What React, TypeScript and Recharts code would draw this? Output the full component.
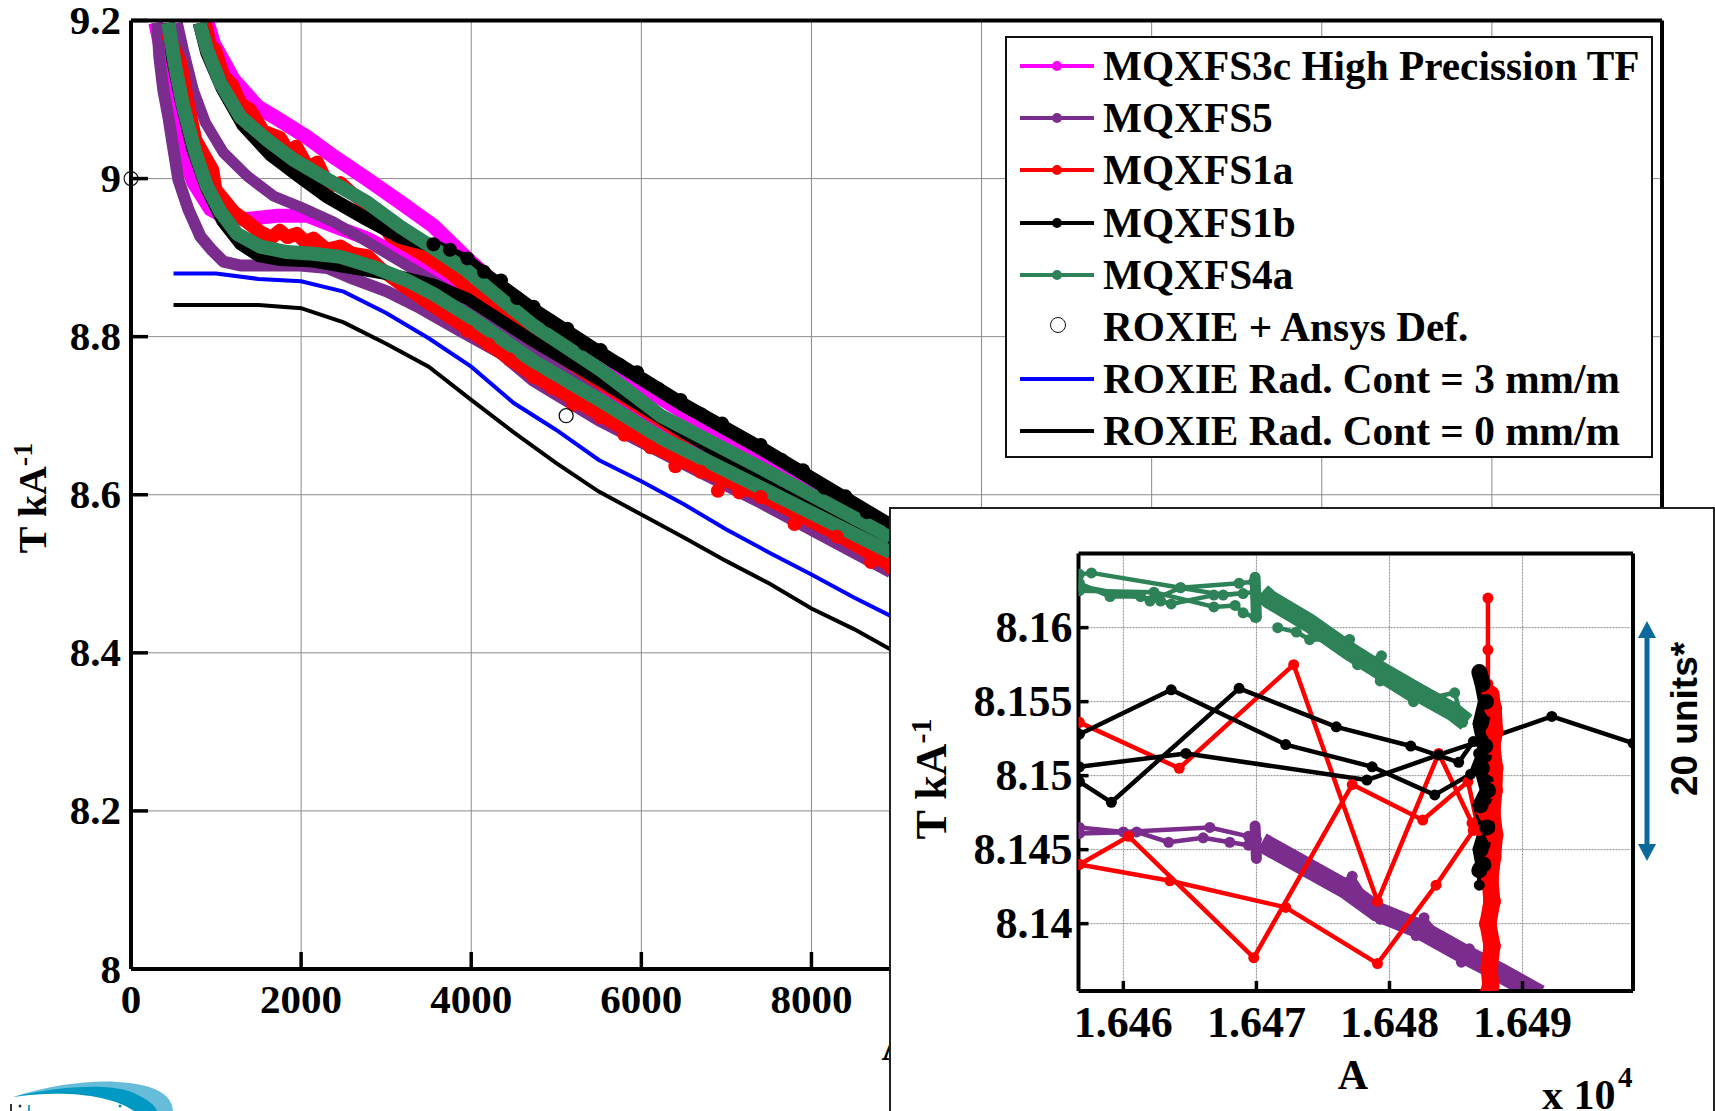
import { LineChart, Line, XAxis, YAxis, CartesianGrid, Legend } from 'recharts'

const SERIF = '"Liberation Serif", serif'

// main plot, [A, T/kA], one array per ramp direction
const magentaLower = [[286, 9.197], [380, 9.15], [462, 9.106], [556, 9.062], [639, 9.024], [733, 8.995], [933, 8.961], [1109, 8.951], [1368, 8.949], [1721, 8.953], [2074, 8.953], [2380, 8.94], [2780, 8.924], [3168, 8.902], [3556, 8.877], [3956, 8.848], [4733, 8.791], [5521, 8.737], [6462, 8.676], [7403, 8.622], [8933, 8.54]]
const magentaUpper = [[898, 9.197], [968, 9.171], [1204, 9.125], [1486, 9.091], [1792, 9.071], [2074, 9.052], [2380, 9.028], [2780, 8.999], [3168, 8.97], [3556, 8.94], [3956, 8.898], [4345, 8.861], [4733, 8.827], [5521, 8.77], [6462, 8.707], [7403, 8.653], [8933, 8.559]]
const purpleLower = [[309, 9.197], [333, 9.154], [380, 9.112], [439, 9.078], [486, 9.046], [556, 8.999], [674, 8.961], [815, 8.927], [956, 8.909], [1086, 8.895], [1286, 8.89], [1604, 8.89], [1992, 8.89], [2309, 8.887], [2615, 8.873], [3015, 8.857], [3404, 8.836], [3874, 8.807], [4345, 8.779], [4733, 8.744], [5521, 8.693], [6462, 8.641], [7403, 8.59], [8933, 8.502]]
const purpleUpper = [[545, 9.197], [615, 9.163], [733, 9.112], [874, 9.071], [1086, 9.033], [1368, 9.003], [1674, 8.978], [1992, 8.964], [2380, 8.945], [2780, 8.92], [3168, 8.895], [3556, 8.87], [3839, 8.852], [4733, 8.785], [5521, 8.722], [6462, 8.659], [7403, 8.603], [8933, 8.515]]
const redLower = [[427, 9.184], [580, 9.146], [674, 9.091], [756, 9.049], [956, 9.011], [992, 8.986], [1204, 8.958], [1368, 8.945], [1521, 8.932], [1650, 8.925], [1750, 8.934], [1839, 8.926], [1950, 8.93], [2050, 8.92], [2145, 8.924], [2300, 8.91], [2462, 8.914], [2600, 8.905], [2780, 8.902], [2933, 8.886], [3168, 8.867], [3556, 8.839], [3956, 8.81], [4733, 8.751], [5521, 8.701], [6109, 8.663], [6698, 8.632], [7403, 8.6], [8300, 8.55], [8933, 8.511]]
const redLowerEdge = [[3956, 8.807], [4200, 8.79], [4450, 8.771], [4733, 8.749], [4950, 8.735], [5200, 8.714], [5521, 8.698], [5800, 8.676], [6109, 8.66], [6400, 8.636], [6698, 8.629], [6900, 8.605], [7150, 8.603], [7403, 8.597], [7800, 8.563], [8300, 8.547], [8700, 8.515], [8933, 8.508]]
const redUpper = [[874, 9.197], [930, 9.17], [992, 9.163], [1090, 9.13], [1192, 9.119], [1290, 9.095], [1404, 9.087], [1560, 9.06], [1756, 9.052], [1850, 9.035], [1945, 9.041], [2080, 9.015], [2192, 9.021], [2330, 8.99], [2462, 8.995], [2874, 8.955], [3051, 8.927], [3404, 8.905], [3756, 8.88], [3956, 8.861], [4733, 8.798], [5521, 8.741], [6462, 8.678], [7403, 8.634], [8933, 8.546]]
const blackLower = [[439, 9.197], [486, 9.15], [580, 9.1], [721, 9.037], [886, 8.987], [1074, 8.946], [1286, 8.917], [1498, 8.902], [1757, 8.897], [2145, 8.895], [2462, 8.889], [2851, 8.882], [3168, 8.876], [3556, 8.866], [3956, 8.848], [4733, 8.794], [5521, 8.744], [6462, 8.681], [7403, 8.622], [8933, 8.537]]
const blackUpper = [[807, 9.197], [894, 9.16], [1074, 9.115], [1321, 9.068], [1639, 9.031], [1957, 9.005], [2298, 8.978], [2768, 8.949], [3168, 8.926], [3556, 8.915], [3956, 8.895], [4733, 8.834], [5521, 8.779], [6462, 8.716], [7403, 8.659], [8933, 8.561]]
const blackUpperEdge = [[3556, 8.917], [3750, 8.91], [3956, 8.899], [4150, 8.882], [4350, 8.871], [4540, 8.849], [4733, 8.838], [4930, 8.82], [5130, 8.81], [5330, 8.791], [5521, 8.783], [5750, 8.764], [5950, 8.755], [6200, 8.734], [6462, 8.72], [6700, 8.702], [6950, 8.69], [7200, 8.671], [7403, 8.663], [7650, 8.644], [7900, 8.631], [8150, 8.609], [8400, 8.598], [8650, 8.578], [8933, 8.565]]
const greenLower = [[439, 9.197], [521, 9.141], [615, 9.091], [756, 9.033], [894, 8.99], [1051, 8.958], [1247, 8.93], [1521, 8.914], [1835, 8.907], [2145, 8.905], [2462, 8.901], [2851, 8.888], [3247, 8.871], [3556, 8.854], [3956, 8.827], [4733, 8.769], [5521, 8.719], [6227, 8.672], [7403, 8.609], [8933, 8.527]]
const greenUpper = [[807, 9.197], [894, 9.163], [1051, 9.121], [1286, 9.078], [1600, 9.049], [1909, 9.024], [2306, 8.999], [2776, 8.97], [3168, 8.939], [3556, 8.912], [3956, 8.883], [4345, 8.848], [4733, 8.814], [5521, 8.758], [6227, 8.7], [7403, 8.634], [8933, 8.546]]
const roxieDef = [[0, 9.0], [5116, 8.7]]
const roxie3mm = [[500, 8.88], [1000, 8.88], [1500, 8.873], [2000, 8.87], [2500, 8.857], [3000, 8.83], [3500, 8.798], [4000, 8.762], [4500, 8.716], [5000, 8.682], [5500, 8.644], [6000, 8.617], [6500, 8.588], [7000, 8.556], [7500, 8.527], [8000, 8.499], [8500, 8.47], [9000, 8.443]]
const roxie0mm = [[500, 8.84], [1000, 8.84], [1500, 8.84], [2000, 8.836], [2500, 8.818], [3000, 8.791], [3500, 8.762], [4000, 8.72], [4500, 8.679], [5000, 8.64], [5500, 8.604], [6000, 8.575], [6500, 8.546], [7000, 8.516], [7500, 8.488], [8000, 8.456], [8500, 8.43], [9000, 8.4]]

const mainXTicks = [0, 2000, 4000, 6000, 8000, 10000, 12000, 14000, 16000, 18000]
const mainYTicks = [8, 8.2, 8.4, 8.6, 8.8, 9, 9.2]

// inset, zoom on the flat top of the ramp
const insetGreenA = [[16456.7, 8.1636], [16457.6, 8.1637], [16464.3, 8.1627], [16468.7, 8.163], [16469.8, 8.1631]]
const insetGreenB = [[16456.7, 8.163], [16459, 8.1621], [16461.3, 8.1621], [16462, 8.1618], [16464.3, 8.1627], [16467.5, 8.1622], [16469.9, 8.1624]]
const insetGreenC = [[16456.7, 8.1628], [16462.8, 8.1618], [16463.6, 8.1616], [16466.8, 8.1622], [16469, 8.1623]]
const insetGreenD = [[16456.7, 8.1625], [16462.3, 8.1624], [16466.8, 8.1614], [16468.4, 8.1615], [16469, 8.161], [16469.9, 8.1607]]
const insetGreenEdge = [[16471.6, 8.16], [16473, 8.1597], [16474, 8.1592], [16477, 8.1592], [16477.6, 8.1575], [16479.4, 8.1581], [16479.3, 8.1564], [16481.8, 8.155], [16484.9, 8.1556], [16485.5, 8.1536]]
const insetGreenBlob = [[16469.9, 8.1634], [16470, 8.1607]]
const insetGreenBand = [[16470.4, 8.1624], [16471, 8.1619], [16474, 8.1603], [16477, 8.1584], [16479.3, 8.1571], [16482, 8.1557], [16484.8, 8.1543], [16485.8, 8.1536]]
const insetPurpleA = [[16456.7, 8.1465], [16460, 8.1462], [16466.5, 8.1465], [16469.4, 8.1459], [16470, 8.1457]]
const insetPurpleB = [[16456.7, 8.1461], [16461, 8.1462], [16463.4, 8.1455], [16466, 8.1458], [16468, 8.1455], [16469.4, 8.1453], [16470, 8.1452]]
const insetPurpleBlob = [[16469.9, 8.1466], [16470, 8.1444]]
const insetPurpleBand = [[16470.4, 8.1455], [16474.2, 8.1436], [16476.8, 8.1423], [16479.1, 8.1408], [16482.1, 8.1397], [16485.7, 8.1379], [16488.5, 8.1366], [16491.3, 8.1352]]
const insetPurpleEdge = [[16476.4, 8.1428], [16477.2, 8.1432], [16479.3, 8.1403], [16482, 8.1392], [16482.6, 8.1404], [16485.4, 8.1374], [16486, 8.1383]]
const insetRedA = [[16456.7, 8.1536], [16464.2, 8.1505], [16472.8, 8.1575], [16479.1, 8.1415], [16483.7, 8.1515], [16486.2, 8.1468], [16486.9, 8.1476]]
const insetRedB = [[16456.7, 8.144], [16460.4, 8.1459], [16469.8, 8.1377], [16477.2, 8.1494], [16482.5, 8.147], [16485.9, 8.1496], [16486.7, 8.1463]]
const insetRedC = [[16456.7, 8.144], [16463.5, 8.1429], [16472.2, 8.1411], [16479.1, 8.1373], [16483.5, 8.1426], [16486.3, 8.1463], [16487.1, 8.1473]]
const insetRedSpike = [[16487.4, 8.162], [16487.4, 8.1585], [16487.4, 8.1562], [16487.6, 8.1545]]
const insetRedBand = [[16487.6, 8.1555], [16487.8, 8.1545], [16487.9, 8.153], [16487.7, 8.152], [16487.9, 8.1505], [16487.85, 8.149], [16487.7, 8.1475], [16487.9, 8.146], [16487.75, 8.1445], [16487.55, 8.143], [16487.7, 8.1415], [16487.4, 8.14], [16487.7, 8.1385], [16487.5, 8.137], [16487.6, 8.1358], [16487.4, 8.1352]]
const insetBlackA = [[16456.7, 8.1528], [16463.6, 8.1558], [16472.2, 8.1521], [16478.7, 8.1506], [16483.4, 8.1487], [16486.1, 8.1501], [16486.7, 8.1515]]
const insetBlackB = [[16456.7, 8.1496], [16459.1, 8.1482], [16468.7, 8.1559], [16476, 8.1533], [16481.6, 8.152], [16485.2, 8.1509], [16486.3, 8.1523]]
const insetBlackC = [[16456.7, 8.1506], [16464.7, 8.1515], [16478.3, 8.1497], [16483.7, 8.1514], [16486.7, 8.1523], [16492.2, 8.154], [16498.3, 8.1522]]
const insetBlackBand = [[16486.75, 8.157], [16487, 8.1562], [16487.25, 8.155], [16486.85, 8.1535], [16487.2, 8.152], [16486.95, 8.1505], [16487.4, 8.149], [16486.85, 8.148], [16487.35, 8.1465], [16486.85, 8.145], [16487.05, 8.144], [16486.75, 8.1436]]
const insetBlackTail = [[16486.75, 8.1438], [16486.75, 8.1426]]

const insetXTicks = [16460, 16470, 16480, 16490]
const insetYTicks = [8.14, 8.145, 8.15, 8.155, 8.16]

const legendItems = [
  { name: 'MQXFS3c High Precission TF', color: '#ff00ff', marker: 'dot' },
  { name: 'MQXFS5', color: '#7b2d8e', marker: 'dot' },
  { name: 'MQXFS1a', color: '#ff0000', marker: 'dot' },
  { name: 'MQXFS1b', color: '#000000', marker: 'dot' },
  { name: 'MQXFS4a', color: '#2e8257', marker: 'dot' },
  { name: 'ROXIE + Ansys Def.', color: '#000000', marker: 'circle' },
  { name: 'ROXIE Rad. Cont = 3 mm/m', color: '#0000ff', marker: 'line' },
  { name: 'ROXIE Rad. Cont = 0 mm/m', color: '#000000', marker: 'line' },
]

const mainSeries = [
  { rows: magentaLower, color: '#ff00ff', width: 14 },
  { rows: magentaUpper, color: '#ff00ff', width: 15 },
  { rows: purpleLower, color: '#7b2d8e', width: 12 },
  { rows: purpleUpper, color: '#7b2d8e', width: 11 },
  { rows: redUpper, color: '#ff0000', width: 13 },
  { rows: redLower, color: '#ff0000', width: 14 },
  { rows: blackLower, color: '#000000', width: 12 },
  { rows: blackUpper, color: '#000000', width: 14 },
  { rows: greenLower, color: '#2e8257', width: 14 },
  { rows: greenUpper, color: '#2e8257', width: 14 },
]

const insetThin = [
  { rows: insetPurpleA, color: '#7b2d8e' },
  { rows: insetPurpleB, color: '#7b2d8e' },
  { rows: insetPurpleEdge, color: '#7b2d8e' },
  { rows: insetGreenA, color: '#2e8257' },
  { rows: insetGreenB, color: '#2e8257' },
  { rows: insetGreenC, color: '#2e8257' },
  { rows: insetGreenD, color: '#2e8257' },
  { rows: insetGreenEdge, color: '#2e8257' },
  { rows: insetRedA, color: '#ff0000' },
  { rows: insetRedB, color: '#ff0000' },
  { rows: insetRedC, color: '#ff0000' },
  { rows: insetRedSpike, color: '#ff0000' },
]
const insetBlack = [insetBlackA, insetBlackB, insetBlackC, insetBlackTail]

const toPoints = (rows: number[][]) => rows.map(([x, y]) => ({ x, y }))

function LegendBox() {
  return (
    <div style={{ width: 648, height: 422, boxSizing: 'border-box', background: '#fff', border: '2px solid #111', position: 'relative' }}>
      {legendItems.map((item, i) => (
        <div key={item.name} style={{ position: 'absolute', left: 0, top: 2 + i * 52.2, height: 52, width: 644 }}>
          {item.marker !== 'circle' && (
            <div style={{ position: 'absolute', left: 13, top: 24, width: 74, height: 4, background: item.color }} />
          )}
          {item.marker === 'dot' && (
            <div style={{ position: 'absolute', left: 45, top: 21, width: 10, height: 10, borderRadius: 5, background: item.color }} />
          )}
          {item.marker === 'circle' && (
            <div style={{ position: 'absolute', left: 43, top: 16, width: 14, height: 14, borderRadius: 8, border: '1.5px solid #111' }} />
          )}
          <span style={{ position: 'absolute', left: 96, top: 0, lineHeight: '52px', whiteSpace: 'pre', fontFamily: SERIF, fontWeight: 700, fontSize: 41.3, color: '#000' }}>
            {item.name}
          </span>
        </div>
      ))}
    </div>
  )
}

// Matlab style: ticks point into the plot
function tickBottom(len: number, size: number, gap: number, format: (v: number) => string, maxLabel = Infinity) {
  return ({ x, y, payload }: any) => (
    <g>
      <line x1={x} y1={y} x2={x} y2={y - len} stroke="#000" strokeWidth={3.5} />
      {payload.value <= maxLabel && (
        <text x={x} y={y + gap} textAnchor="middle" fontFamily={SERIF} fontWeight={700} fontSize={size}>{format(payload.value)}</text>
      )}
    </g>
  )
}
function tickLeft(len: number, size: number, gap: number, format: (v: number) => string) {
  return ({ x, y, payload }: any) => (
    <g>
      <line x1={x} y1={y} x2={x + len} y2={y} stroke="#000" strokeWidth={3.5} />
      <text x={x - gap} y={y} dy="0.33em" textAnchor="end" fontFamily={SERIF} fontWeight={700} fontSize={size}>{format(payload.value)}</text>
    </g>
  )
}
const tickTop = (len: number) => ({ x, y }: any) => <line x1={x} y1={y} x2={x} y2={y + len} stroke="#000" strokeWidth={3.5} />
const tickRight = (len: number) => ({ x, y }: any) => <line x1={x} y1={y} x2={x - len} y2={y} stroke="#000" strokeWidth={3.5} />

function MainChart() {
  const spine = { stroke: '#000', strokeWidth: 4 }
  return (
    <LineChart width={1715} height={1111} margin={{ top: 19.5, left: 11, right: 52, bottom: 82 }}>
      <CartesianGrid stroke="#8a8a8a" strokeWidth={1} horizontalValues={mainYTicks} verticalValues={mainXTicks} />
      <XAxis dataKey="x" type="number" domain={[0, 18000]} ticks={mainXTicks} interval={0} allowDataOverflow height={60}
        tick={tickBottom(17, 41, 44, String, 8000)} axisLine={spine} tickLine={false} tickSize={0} tickMargin={0} />
      <XAxis xAxisId="top" orientation="top" dataKey="x" type="number" domain={[0, 18000]} ticks={mainXTicks} interval={0} height={1}
        tick={tickTop(17)} axisLine={spine} tickLine={false} tickSize={0} tickMargin={0} />
      <YAxis dataKey="y" type="number" domain={[8, 9.2]} ticks={mainYTicks} interval={0} allowDataOverflow width={120}
        tick={tickLeft(17, 41, 10, String)} axisLine={spine} tickLine={false} tickSize={0} tickMargin={0} />
      <YAxis yAxisId="right" orientation="right" type="number" domain={[8, 9.2]} ticks={mainYTicks} interval={0} width={1}
        tick={tickRight(17)} axisLine={spine} tickLine={false} tickSize={0} tickMargin={0} />
      {mainSeries.map((s, i) => (
        <Line key={i} data={toPoints(s.rows)} dataKey="y" stroke={s.color} strokeWidth={s.width} strokeLinejoin="round"
          dot={false} isAnimationActive={false} />
      ))}
      <Line data={toPoints(redLowerEdge)} dataKey="y" stroke="none" dot={{ r: 7, fill: '#ff0000', stroke: 'none' }} isAnimationActive={false} />
      <Line data={toPoints(blackUpperEdge)} dataKey="y" stroke="none" dot={{ r: 7, fill: '#000', stroke: 'none' }} isAnimationActive={false} />
      <Line data={toPoints(roxie3mm)} dataKey="y" stroke="#0000ff" strokeWidth={4} dot={false} isAnimationActive={false} />
      <Line data={toPoints(roxie0mm)} dataKey="y" stroke="#000" strokeWidth={4} dot={false} isAnimationActive={false} />
      <Line data={toPoints(roxieDef)} dataKey="y" stroke="none"
        dot={{ r: 7, fill: 'none', stroke: '#111', strokeWidth: 1.3, clipDot: false }} isAnimationActive={false} />
      <Legend verticalAlign="middle" content={<LegendBox />} wrapperStyle={{ left: 1005, top: 36, width: 648, height: 422 }} />
      <text transform="translate(46,498) rotate(-90)" textAnchor="middle" fontFamily={SERIF} fontWeight={700} fontSize={40}>
        T kA<tspan dy={-14} fontSize={28}>-1</tspan>
      </text>
      <text x={896} y={1060} textAnchor="middle" fontFamily={SERIF} fontWeight={700} fontSize={40}>A</text>
      {/* logo at the page edge, cut off by the slide */}
      <path d="M13 1097 C50 1085 90 1080 118 1082 C150 1084 172 1092 173 1111 L152 1111 C140 1096 100 1086 13 1097 Z" fill="#67bcd9" />
      <path d="M13 1097 C60 1086 115 1082 138 1095 C148 1100 155 1105 157 1111 L134 1111 C110 1094 60 1090 13 1097 Z" fill="#0099c4" />
      <rect x={10} y={1104} width={2} height={7} fill="#333" />
      <circle cx={20} cy={1106} r={1.5} fill="#333" />
      <rect x={28} y={1105} width={2} height={6} fill="#3a9cc8" />
      <circle cx={120} cy={1106} r={1.5} fill="#0a8fb8" />
    </LineChart>
  )
}

function InsetChart() {
  const spine = { stroke: '#000', strokeWidth: 4 }
  const fmtX = (v: number) => (v / 10000).toFixed(3)
  const fmtY = (v: number) => String(Number(v.toFixed(3)))
  return (
    <LineChart width={824} height={602} margin={{ top: 43.5, left: 7.5, right: 81, bottom: 60 }}>
      <CartesianGrid stroke="#8a8a8a" strokeWidth={1} strokeDasharray="2 1" horizontalValues={insetYTicks} verticalValues={insetXTicks} />
      <XAxis dataKey="x" type="number" domain={[16456.63, 16498.3]} ticks={insetXTicks} interval={0} allowDataOverflow height={60}
        tick={tickBottom(10, 44, 46, fmtX)} axisLine={spine} tickLine={false} tickSize={0} tickMargin={0} />
      <XAxis xAxisId="top" orientation="top" dataKey="x" type="number" domain={[16456.63, 16498.3]} ticks={insetXTicks} interval={0} height={1}
        tick={tickTop(10)} axisLine={spine} tickLine={false} tickSize={0} tickMargin={0} />
      <YAxis dataKey="y" type="number" domain={[8.13545, 8.16501]} ticks={insetYTicks} interval={0} allowDataOverflow width={180}
        tick={tickLeft(10, 44, 6, fmtY)} axisLine={spine} tickLine={false} tickSize={0} tickMargin={0} />
      <YAxis yAxisId="right" orientation="right" type="number" domain={[8.13545, 8.16501]} ticks={insetYTicks} interval={0} width={1}
        tick={tickRight(10)} axisLine={spine} tickLine={false} tickSize={0} tickMargin={0} />
      <Line data={toPoints(insetPurpleBlob)} dataKey="y" stroke="#7b2d8e" strokeWidth={11} strokeLinecap="round" dot={false} isAnimationActive={false} />
      <Line data={toPoints(insetPurpleBand)} dataKey="y" stroke="#7b2d8e" strokeWidth={20} strokeLinejoin="round" dot={false} isAnimationActive={false} />
      <Line data={toPoints(insetGreenBlob)} dataKey="y" stroke="#2e8257" strokeWidth={11} strokeLinecap="round" dot={false} isAnimationActive={false} />
      <Line data={toPoints(insetGreenBand)} dataKey="y" stroke="#2e8257" strokeWidth={19} strokeLinejoin="round" dot={false} isAnimationActive={false} />
      {insetThin.map((s, i) => (
        <Line key={i} data={toPoints(s.rows)} dataKey="y" stroke={s.color} strokeWidth={4.5} strokeLinejoin="round"
          dot={{ r: 5.5, fill: s.color, stroke: 'none' }} isAnimationActive={false} />
      ))}
      <Line data={toPoints(insetRedBand)} dataKey="y" stroke="#ff0000" strokeWidth={17} strokeLinejoin="round"
        dot={{ r: 9, fill: '#ff0000', stroke: 'none' }} isAnimationActive={false} />
      {insetBlack.map((rows, i) => (
        <Line key={i} data={toPoints(rows)} dataKey="y" stroke="#000" strokeWidth={4.5} strokeLinejoin="round"
          dot={{ r: 5.5, fill: '#000', stroke: 'none' }} isAnimationActive={false} />
      ))}
      <Line data={toPoints(insetBlackBand)} dataKey="y" stroke="#000" strokeWidth={16} strokeLinejoin="round"
        dot={{ r: 8, fill: '#000', stroke: 'none' }} isAnimationActive={false} />
      <text transform="translate(55,270) rotate(-90)" textAnchor="middle" fontFamily={SERIF} fontWeight={700} fontSize={44}>
        T kA<tspan dy={-15} fontSize={30}>-1</tspan>
      </text>
      <text x={462} y={580} textAnchor="middle" fontFamily={SERIF} fontWeight={700} fontSize={42}>A</text>
      <text x={651} y={600} fontFamily={SERIF} fontWeight={700} fontSize={42}>x 10</text>
      <text x={727} y={578} fontFamily={SERIF} fontWeight={700} fontSize={29}>4</text>
      <line x1={756} y1={126} x2={756} y2={338} stroke="#0b6a9b" strokeWidth={5} />
      <path d="M756 112 L747 129 L765 129 Z" fill="#0b6a9b" />
      <path d="M756 352 L747 335 L765 335 Z" fill="#0b6a9b" />
      <text transform="translate(806,210) rotate(-90)" textAnchor="middle" fontFamily={'"Liberation Sans", sans-serif'} fontWeight={700} fontSize={37}>20 units*</text>
    </LineChart>
  )
}

export default function App() {
  return (
    <div style={{ position: 'absolute', left: 0, top: 0, width: 1715, height: 1111, overflow: 'hidden', background: '#fff' }}>
      <MainChart />
      <div style={{ position: 'absolute', left: 889, top: 507, width: 826, height: 604, boxSizing: 'border-box', background: '#fff', border: '2px solid #222', borderBottom: 'none', borderRight: '2px solid #222' }}>
        <InsetChart />
      </div>
    </div>
  )
}
